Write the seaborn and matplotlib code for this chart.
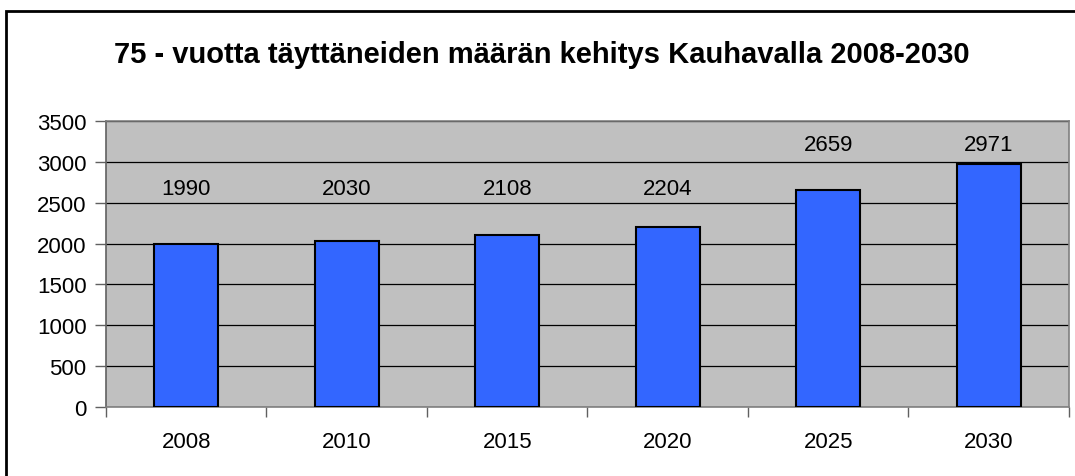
import numpy as np
import pandas as pd
import seaborn as sns
import matplotlib.pyplot as plt
from matplotlib.patches import Rectangle

years = ['2008', '2010', '2015', '2020', '2025', '2030']
counts = [1990, 2030, 2108, 2204, 2659, 2971]
title = '75 - vuotta täyttäneiden määrän kehitys Kauhavalla 2008-2030'

df = pd.DataFrame({'year': years, 'count': counts})

sns.set_theme(style='white')
plt.rcParams['font.family'] = ['Liberation Sans', 'DejaVu Sans']
plt.rcParams['text.color'] = 'black'
plt.rcParams['xtick.color'] = 'black'
plt.rcParams['ytick.color'] = 'black'

fig = plt.figure(figsize=(10.75, 4.77), dpi=100)
ax = fig.add_axes([0.0986, 0.1447, 0.8958, 0.5995])
ax.set_facecolor('#C0C0C0')

sns.barplot(data=df, x='year', y='count', color='#3366FF', saturation=1,
            edgecolor='black', linewidth=1.5, width=0.4, ax=ax, zorder=3)

ax.set_ylim(0, 3500)
ax.set_xlim(-0.5, len(years) - 0.5)
ax.set_yticks(np.arange(0, 3501, 500))
ax.yaxis.grid(True, color='black', linewidth=0.9)
ax.set_axisbelow(True)
ax.set_xlabel('')
ax.set_ylabel('')

# Excel style ticks: y ticks outward, x ticks on category boundaries
ax.tick_params(axis='y', length=8, width=1, color='#606060', labelsize=16, pad=6, left=True,
               labelcolor='black')
ax.tick_params(axis='x', which='major', length=0, labelsize=16, pad=17, labelcolor='black')
ax.set_xticks(np.arange(-0.5, len(years), 1), minor=True)
ax.tick_params(axis='x', which='minor', length=7, width=1, color='#606060', bottom=True)

for s in ax.spines.values():
    s.set_color('#808080')
    s.set_linewidth(1.2)
ax.spines['left'].set_color('#606060')

# value labels sit on two rows above the bars
vals = np.array(counts)
label_y = np.where(vals > 2500, 3210, 2680)
for i, (v, ly) in enumerate(zip(vals, label_y)):
    ax.text(i, ly, str(v), ha='center', va='center', fontsize=16, color='black')

fig.text(0.504, 0.885, title, ha='center', va='center', fontsize=21,
         fontweight='bold', color='black')

fig.patches.append(Rectangle((0.0056, -0.2), 1.2, 0.9748 + 0.2, transform=fig.transFigure,
                             fill=False, edgecolor='black', linewidth=2))

fig.savefig('out.png', dpi=100, facecolor='white')
